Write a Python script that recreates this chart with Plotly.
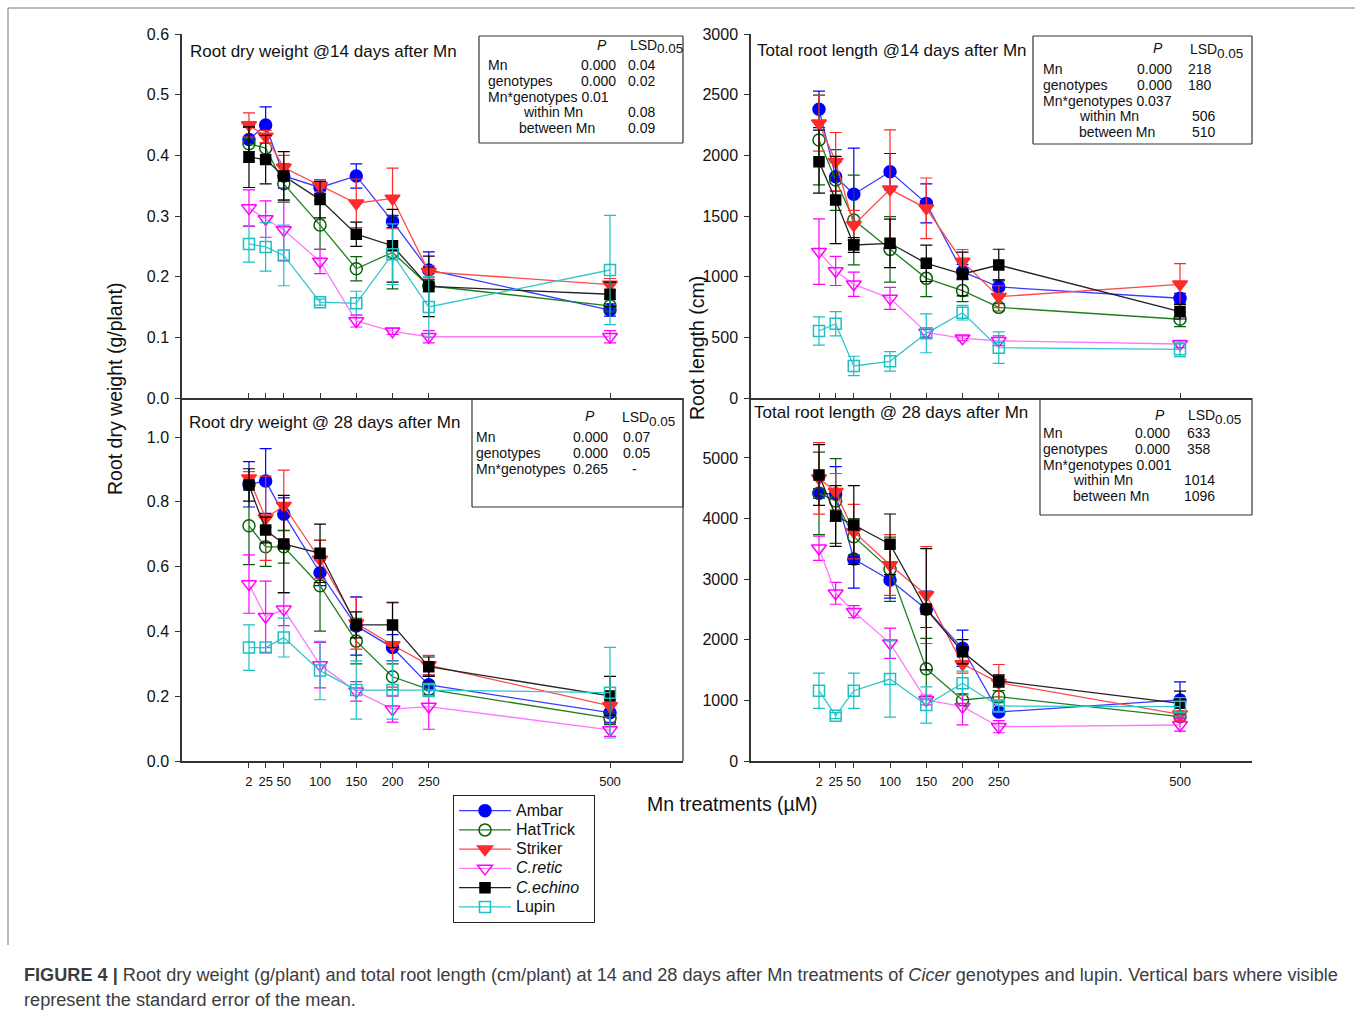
import plotly.graph_objects as go

W, H = 1355, 1015

# ---------------- data ----------------
mn = [2, 25, 50, 100, 150, 200, 250, 500]
mn_labels = ["2", "25", "50", "100", "150", "200", "250", "500"]
genotypes = ["Ambar", "HatTrick", "Striker", "C.retic", "C.echino", "Lupin"]

# Root dry weight @14 days (g/plant)
rdw14_ambar = [0.426, 0.450, 0.366, 0.347, 0.366, 0.291, 0.211, 0.145]
rdw14_hattrick = [0.419, 0.412, 0.353, 0.285, 0.213, 0.240, 0.185, 0.152]
rdw14_striker = [0.450, 0.431, 0.380, 0.350, 0.321, 0.329, 0.208, 0.187]
rdw14_cretic = [0.313, 0.295, 0.277, 0.225, 0.127, 0.110, 0.101, 0.101]
rdw14_cechino = [0.397, 0.393, 0.366, 0.327, 0.270, 0.251, 0.184, 0.171]
rdw14_lupin = [0.254, 0.249, 0.235, 0.158, 0.156, 0.237, 0.150, 0.211]
rdw14_se_ambar = [0.02, 0.03, 0.02, 0.01, 0.02, 0.01, 0.03, 0.01]
rdw14_se_hattrick = [0.03, 0.02, 0.03, 0.04, 0.02, 0.06, 0.01, 0.01]
rdw14_se_striker = [0.02, 0.01, 0.02, 0.01, 0.04, 0.05, 0.01, 0.01]
rdw14_se_cretic = [0.03, 0.03, 0.05, 0.02, 0.01, 0.005, 0.01, 0.01]
rdw14_se_cechino = [0.05, 0.04, 0.04, 0.03, 0.02, 0.06, 0.05, 0.02]
rdw14_se_lupin = [0.03, 0.04, 0.05, 0.005, 0.02, 0.05, 0.05, 0.09]

# Total root length @14 days (cm)
trl14_ambar = [2379, 1824, 1679, 1865, 1604, 1041, 915, 822]
trl14_hattrick = [2126, 1797, 1467, 1225, 986, 885, 747, 649]
trl14_striker = [2264, 1948, 1426, 1720, 1563, 1124, 835, 937]
trl14_cretic = [1206, 1047, 937, 821, 540, 492, 472, 445]
trl14_cechino = [1948, 1632, 1261, 1275, 1110, 1022, 1096, 711]
trl14_lupin = [552, 612, 264, 302, 533, 703, 415, 401]
trl14_se_ambar = [150, 120, 380, 150, 160, 60, 60, 40]
trl14_se_hattrick = [370, 250, 370, 270, 150, 90, 30, 60]
trl14_se_striker = [230, 240, 120, 490, 250, 100, 90, 170]
trl14_se_cretic = [270, 120, 100, 90, 40, 20, 40, 30]
trl14_se_cechino = [260, 360, 60, 200, 150, 180, 130, 60]
trl14_se_lupin = [117, 100, 80, 80, 160, 60, 130, 60]

# Root dry weight @28 days (g/plant)
rdw28_ambar = [0.854, 0.864, 0.762, 0.581, 0.417, 0.350, 0.235, 0.149]
rdw28_hattrick = [0.726, 0.661, 0.661, 0.541, 0.370, 0.260, 0.221, 0.132]
rdw28_striker = [0.873, 0.749, 0.788, 0.622, 0.425, 0.358, 0.296, 0.170]
rdw28_cretic = [0.546, 0.445, 0.468, 0.296, 0.215, 0.160, 0.168, 0.096]
rdw28_cechino = [0.852, 0.713, 0.670, 0.641, 0.420, 0.420, 0.291, 0.201]
rdw28_lupin = [0.350, 0.350, 0.381, 0.279, 0.219, 0.219, 0.219, 0.211]
rdw28_se_ambar = [0.07, 0.10, 0.05, 0.04, 0.09, 0.04, 0.03, 0.03]
rdw28_se_hattrick = [0.12, 0.06, 0.05, 0.14, 0.07, 0.04, 0.02, 0.02]
rdw28_se_striker = [0.02, 0.13, 0.11, 0.06, 0.08, 0.13, 0.03, 0.03]
rdw28_se_cretic = [0.09, 0.11, 0.05, 0.07, 0.03, 0.04, 0.07, 0.02]
rdw28_se_cechino = [0.05, 0.04, 0.15, 0.09, 0.04, 0.07, 0.03, 0.06]
rdw28_se_lupin = [0.07, 0.0, 0.06, 0.09, 0.09, 0.09, 0.02, 0.14]

# Total root length @28 days (cm)
trl28_ambar = [4417, 4406, 3333, 2987, 2503, 1860, 809, 1007]
trl28_hattrick = [4417, 4290, 3701, 3163, 1523, 1007, 1061, 731]
trl28_striker = [4665, 4444, 3784, 3234, 2739, 1601, 1292, 770]
trl28_cretic = [3510, 2767, 2464, 1942, 1007, 896, 566, 594]
trl28_cechino = [4719, 4043, 3894, 3576, 2503, 1804, 1320, 952]
trl28_lupin = [1160, 748, 1160, 1353, 924, 1282, 908, 896]
trl28_se_ambar = [80, 450, 480, 300, 300, 300, 40, 300]
trl28_se_hattrick = [680, 700, 300, 530, 500, 100, 100, 60]
trl28_se_striker = [590, 300, 450, 500, 800, 150, 300, 100]
trl28_se_cretic = [200, 180, 100, 250, 80, 300, 100, 100]
trl28_se_cechino = [500, 500, 650, 500, 1000, 200, 100, 200]
trl28_se_lupin = [290, 50, 290, 630, 300, 200, 100, 150]

# ---------------- styling ----------------
FONT = "Arial, 'Liberation Sans', sans-serif"


def legname(s):
    return '<span style="font-size:16px">' + s + '</span>'


styles = {
    "Ambar":    dict(color="#0000ff", line="#3a3aff", symbol="circle", size=12, name=legname("Ambar")),
    "HatTrick": dict(color="#0a5f0a", line="#1f7f1f", symbol="circle-open", size=12, name=legname("HatTrick")),
    "Striker":  dict(color="#ff2a2a", line="#ff4a4a", symbol="triangle-down", size=13, name=legname("Striker")),
    "C.retic":  dict(color="#ff00ff", line="#ff77ff", symbol="triangle-down-open", size=13, name=legname("<i>C.retic</i>")),
    "C.echino": dict(color="#000000", line="#222222", symbol="square", size=10,
                     name=legname("<i>C.echino</i>&nbsp;&nbsp;")),
    "Lupin":    dict(color="#1cc0c4", line="#33c6c9", symbol="square-open", size=11, name=legname("Lupin")),
}

panels = [
    ("x", "y", [rdw14_ambar, rdw14_hattrick, rdw14_striker, rdw14_cretic, rdw14_cechino, rdw14_lupin],
     [rdw14_se_ambar, rdw14_se_hattrick, rdw14_se_striker, rdw14_se_cretic, rdw14_se_cechino, rdw14_se_lupin]),
    ("x2", "y2", [trl14_ambar, trl14_hattrick, trl14_striker, trl14_cretic, trl14_cechino, trl14_lupin],
     [trl14_se_ambar, trl14_se_hattrick, trl14_se_striker, trl14_se_cretic, trl14_se_cechino, trl14_se_lupin]),
    ("x3", "y3", [rdw28_ambar, rdw28_hattrick, rdw28_striker, rdw28_cretic, rdw28_cechino, rdw28_lupin],
     [rdw28_se_ambar, rdw28_se_hattrick, rdw28_se_striker, rdw28_se_cretic, rdw28_se_cechino, rdw28_se_lupin]),
    ("x4", "y4", [trl28_ambar, trl28_hattrick, trl28_striker, trl28_cretic, trl28_cechino, trl28_lupin],
     [trl28_se_ambar, trl28_se_hattrick, trl28_se_striker, trl28_se_cretic, trl28_se_cechino, trl28_se_lupin]),
]

fig = go.Figure()
for pi, (xa, ya, vals, ses) in enumerate(panels):
    for g, v, s in zip(genotypes, vals, ses):
        st = styles[g]
        fig.add_trace(go.Scatter(
            x=mn, y=v, xaxis=xa, yaxis=ya, mode="lines+markers",
            name=st["name"], legendgroup=g, showlegend=(pi == 0),
            line=dict(color=st["line"], width=1.3),
            marker=dict(symbol=st["symbol"], size=st["size"], color=st["color"],
                        line=dict(color=st["color"], width=1.5)),
            error_y=dict(type="data", array=s, visible=True, color=st["color"],
                         thickness=1.2, width=6),
        ))


def px(x):
    return x / W


def py(y):
    return 1 - y / H


LINE = "#333333"
common_axis = dict(showline=True, linecolor=LINE, linewidth=1.5, showgrid=False,
                   zeroline=False, ticks="outside", ticklen=5, tickcolor=LINE,
                   tickfont=dict(family=FONT, size=16, color="#111"), automargin=False,
                   ticklabelstandoff=3)

x_left_range = [-90.4, 600.7]
x_right_range = [-91.8, 599.3]

layout = dict(
    width=W, height=H, margin=dict(l=0, r=0, t=0, b=0, pad=0, autoexpand=False),
    paper_bgcolor="white", plot_bgcolor="rgba(0,0,0,0)",
    font=dict(family=FONT, color="#111"),
    xaxis=dict(common_axis, domain=[px(182), px(683)], range=x_left_range, anchor="y",
               tickvals=mn, showticklabels=False, ticks="inside"),
    yaxis=dict(common_axis, domain=[py(398), py(34)], range=[0, 0.6], anchor="x",
               tickvals=[0, 0.1, 0.2, 0.3, 0.4, 0.5, 0.6], tickformat=".1f"),
    xaxis2=dict(common_axis, domain=[px(751), px(1252)], range=x_right_range, anchor="y2",
                tickvals=mn, showticklabels=False, ticks="inside"),
    yaxis2=dict(common_axis, domain=[py(398), py(34)], range=[0, 3000], anchor="x2",
                tickvals=[0, 500, 1000, 1500, 2000, 2500, 3000]),
    xaxis3=dict(common_axis, domain=[px(182), px(683)], range=x_left_range, anchor="y3",
                tickvals=mn, ticktext=mn_labels, tickfont=dict(family=FONT, size=13, color="#111")),
    yaxis3=dict(common_axis, domain=[py(761), py(398)], range=[0, 1.1204], anchor="x3",
                tickvals=[0, 0.2, 0.4, 0.6, 0.8, 1.0], tickformat=".1f"),
    xaxis4=dict(common_axis, domain=[px(751), px(1252)], range=x_right_range, anchor="y4",
                tickvals=mn, ticktext=mn_labels, tickfont=dict(family=FONT, size=13, color="#111")),
    yaxis4=dict(common_axis, domain=[py(761), py(398)], range=[0, 5990], anchor="x4",
                tickvals=[0, 1000, 2000, 3000, 4000, 5000]),
    legend=dict(x=px(453), y=py(795), xanchor="left", yanchor="top",
                bordercolor="#222", borderwidth=1, bgcolor="white",
                font=dict(family=FONT, size=12.5, color="#111"), itemwidth=52,
                tracegroupgap=0, traceorder="normal"),
    showlegend=True,
)
fig.update_layout(**layout)

shapes = []


def seg(x0, y0, x1, y1, color=LINE, width=1.2):
    shapes.append(dict(type="line", xref="paper", yref="paper", x0=px(x0), x1=px(x1), y0=py(y0), y1=py(y1),
                       line=dict(color=color, width=width)))


def box(x0, y0, x1, y1, sides="ltrb"):
    if "l" in sides:
        seg(x0, y0, x0, y1)
    if "r" in sides:
        seg(x1, y0, x1, y1)
    if "t" in sides:
        seg(x0, y0, x1, y0)
    if "b" in sides:
        seg(x0, y1, x1, y1)


# stats boxes
box(479, 36, 683, 143)
box(472, 398, 683, 507, "lrb")
box(1033, 36, 1252, 144)
box(1040, 398, 1252, 515, "lrb")
# right border of bottom-left panel
seg(683, 398, 683, 761)
# outer figure frame (top & left)
seg(8, 8, W, 8, color="#777", width=1)
seg(8, 8, 8, 945, color="#777", width=1)

annotations = []


def txt(x, y, s, size=14, anchor="left", color="#111", angle=0):
    dx = {"left": -2, "right": 2, "center": 0}[anchor]
    annotations.append(dict(xref="paper", yref="paper", x=px(x + dx), y=py(y), text=s, showarrow=False,
                            xanchor=anchor, yanchor="middle",
                            font=dict(family=FONT, size=size, color=color), textangle=angle))


# panel titles
txt(190, 52, "Root dry weight @14 days after Mn", 17)
txt(757, 50, "Total root length @14 days after Mn", 17)
txt(189, 422, "Root dry weight @ 28 days after Mn", 17)
txt(754, 412, "Total root length @ 28 days after Mn", 17)

# axis titles
txt(115, 389, "Root dry weight (g/plant)", 19.5, anchor="center", angle=-90)
txt(697, 348, "Root length (cm)", 19.5, anchor="center", angle=-90)
txt(732, 804, "Mn treatments (\u00b5M)", 19.5, anchor="center")


def lsd(x, y):
    txt(x, y, "LSD", 14)
    txt(x + 27, y + 4, "0.05", 13.5)


# stats tables
# top-left
txt(602, 45, "<i>P</i>", 14, anchor="center")
lsd(630, 45)
txt(488, 65, "Mn", 14); txt(616, 65, "0.000", 14, anchor="right"); txt(628, 65, "0.04", 14)
txt(488, 81, "genotypes", 14); txt(616, 81, "0.000", 14, anchor="right"); txt(628, 81, "0.02", 14)
txt(488, 97, "Mn*genotypes 0.01", 14)
txt(523, 112, "within Mn", 14); txt(628, 112, "0.08", 14)
txt(519, 128, "between Mn", 14); txt(628, 128, "0.09", 14)
# top-right
txt(1158, 48, "<i>P</i>", 14, anchor="center")
lsd(1190, 49)
txt(1043, 69, "Mn", 14); txt(1172, 69, "0.000", 14, anchor="right"); txt(1188, 69, "218", 14)
txt(1043, 85, "genotypes", 14); txt(1172, 85, "0.000", 14, anchor="right"); txt(1188, 85, "180", 14)
txt(1043, 101, "Mn*genotypes 0.037", 14)
txt(1079, 116, "within Mn", 14); txt(1192, 116, "506", 14)
txt(1079, 132, "between Mn", 14); txt(1192, 132, "510", 14)
# bottom-left
txt(590, 416, "<i>P</i>", 14, anchor="center")
lsd(622, 417)
txt(476, 437, "Mn", 14); txt(608, 437, "0.000", 14, anchor="right"); txt(623, 437, "0.07", 14)
txt(476, 453, "genotypes", 14); txt(608, 453, "0.000", 14, anchor="right"); txt(623, 453, "0.05", 14)
txt(476, 469, "Mn*genotypes", 14); txt(608, 469, "0.265", 14, anchor="right"); txt(632, 469, "-", 14)
# bottom-right
txt(1160, 415, "<i>P</i>", 14, anchor="center")
lsd(1188, 415)
txt(1043, 433, "Mn", 14); txt(1170, 433, "0.000", 14, anchor="right"); txt(1187, 433, "633", 14)
txt(1043, 449, "genotypes", 14); txt(1170, 449, "0.000", 14, anchor="right"); txt(1187, 449, "358", 14)
txt(1043, 465, "Mn*genotypes 0.001", 14)
txt(1073, 480, "within Mn", 14); txt(1184, 480, "1014", 14)
txt(1073, 496, "between Mn", 14); txt(1184, 496, "1096", 14)

# caption
CAP = "#3c3c3c"
txt(24, 975, "<b>FIGURE 4 |</b> Root dry weight (g/plant) and total root length (cm/plant) at 14 and 28 days after Mn "
             "treatments of <i>Cicer</i> genotypes and lupin. Vertical bars where visible", 18.15, color=CAP)
txt(24, 1000, "represent the standard error of the mean.", 18.15, color=CAP)

fig.update_layout(shapes=shapes, annotations=annotations)

fig.write_html("out.html", config={"displayModeBar": False},
               post_script="document.body.style.margin='0px';document.documentElement.style.margin='0px';")
